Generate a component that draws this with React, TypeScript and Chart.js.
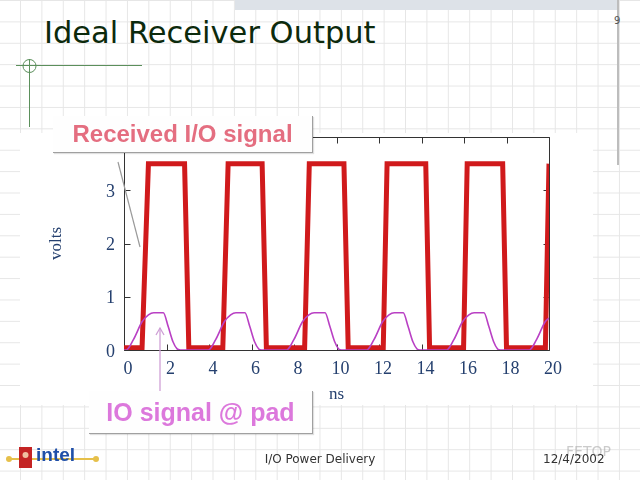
import React, { useEffect, useRef } from "react";
import { Chart, registerables } from "chart.js";
Chart.register(...registerables);

// ---- data ----
const LO = 0.04;
const HI = 3.5;
const receivedT = [0, 0.85, 1.15, 2.85, 3.05, 4.65, 4.9, 6.5, 6.7, 8.5, 8.72, 10.35, 10.55, 12.2, 12.38, 14.2, 14.38, 15.98, 16.15, 17.82, 18.0, 19.83, 20];
const receivedV = [LO, LO, HI, HI, LO, LO, HI, HI, LO, LO, HI, HI, LO, LO, HI, HI, LO, LO, HI, HI, LO, LO, HI];

const padT = [
  0, 0.1, 0.45, 0.85, 1.15, 1.4, 1.85, 2.08, 2.3, 2.5, 2.65,
  3.97, 4.32, 4.72, 5.02, 5.27, 5.69, 5.92, 6.14, 6.34, 6.48,
  7.65, 8.0, 8.4, 8.7, 8.95, 9.46, 9.69, 9.91, 10.1, 10.24,
  11.42, 11.77, 12.17, 12.47, 12.72, 13.14, 13.37, 13.59, 13.79, 13.93,
  15.18, 15.53, 15.93, 16.23, 16.48, 16.94, 17.17, 17.39, 17.58, 17.72,
  19.07, 19.42, 19.82, 20,
];
const padV = [
  0, 0, 0.2, 0.53, 0.66, 0.7, 0.7, 0.44, 0.16, 0.02, 0,
  0, 0.2, 0.53, 0.66, 0.7, 0.7, 0.44, 0.16, 0.02, 0,
  0, 0.2, 0.53, 0.66, 0.7, 0.7, 0.44, 0.16, 0.02, 0,
  0, 0.2, 0.53, 0.66, 0.7, 0.7, 0.44, 0.16, 0.02, 0,
  0, 0.2, 0.53, 0.66, 0.7, 0.7, 0.44, 0.16, 0.02, 0,
  0, 0.2, 0.53, 0.6,
];

const xTickValues = [0, 2, 4, 6, 8, 10, 12, 14, 16, 18, 20];
const yTickValues = [0, 1, 2, 3, 4];
const xTitle = "ns";
const yTitle = "volts";

const AXIS_COLOR = "#25406f";
const SERIF = "'Liberation Serif', 'DejaVu Serif', serif";

const frameTicks = {
  id: "frameTicks",
  beforeDatasetsDraw(chart: any) {
    const { ctx, chartArea: a, scales } = chart;
    const x = scales.x;
    const y = scales.y;
    const L = Math.round(a.left) + 0.5;
    const R = Math.round(a.right) + 0.5;
    const T = Math.round(a.top) + 0.5;
    const B = Math.round(a.bottom) + 0.5;
    const len = 6;
    ctx.save();
    ctx.strokeStyle = "#333333";
    ctx.lineWidth = 1;
    ctx.beginPath();
    ctx.rect(L, T, R - L, B - T);
    x.ticks.forEach((t: any) => {
      const px = Math.round(x.getPixelForValue(t.value)) + 0.5;
      ctx.moveTo(px, B);
      ctx.lineTo(px, B - len);
      ctx.moveTo(px, T);
      ctx.lineTo(px, T + len);
    });
    y.ticks.forEach((t: any) => {
      const py = Math.round(y.getPixelForValue(t.value)) + 0.5;
      ctx.moveTo(L, py);
      ctx.lineTo(L + len, py);
      ctx.moveTo(R, py);
      ctx.lineTo(R - len, py);
    });
    ctx.stroke();
    ctx.restore();
  },
};

function WaveChart() {
  const ref = useRef<HTMLCanvasElement | null>(null);
  useEffect(() => {
    if (!ref.current) return;
    const received = receivedT.map((t, i) => ({ x: t, y: receivedV[i] }));
    const pad = padT.map((t, i) => ({ x: t, y: padV[i] }));
    const chart = new Chart(ref.current, {
      type: "scatter",
      data: {
        datasets: [
          {
            label: "IO signal @ pad",
            data: pad,
            showLine: true,
            borderColor: "#b940c4",
            borderWidth: 1.6,
            pointRadius: 0,
            cubicInterpolationMode: "monotone",
            order: 1,
          } as any,
          {
            label: "Received I/O signal",
            data: received,
            showLine: true,
            borderColor: "#d01a1c",
            borderWidth: 5,
            pointRadius: 0,
            tension: 0,
            clip: 0,
            order: 2,
          } as any,
        ],
      },
      options: {
        animation: false,
        responsive: false,
        layout: { padding: { left: 26, top: 4, right: 43, bottom: 0 } },
        plugins: { legend: { display: false }, tooltip: { enabled: false } },
        scales: {
          x: {
            type: "linear",
            min: 0,
            max: 20,
            afterBuildTicks: (s: any) => {
              s.ticks = xTickValues.map((v) => ({ value: v }));
            },
            afterFit: (s: any) => {
              s.height = 55;
              s.paddingLeft = 0;
              s.paddingRight = 0;
            },
            ticks: {
              autoSkip: false,
              maxRotation: 0,
              padding: 8,
              labelOffset: 4,
              color: AXIS_COLOR,
              font: { family: SERIF, size: 18 },
            },
            grid: { display: false, drawTicks: false },
            border: { display: false },
            title: {
              display: true,
              text: xTitle,
              color: AXIS_COLOR,
              font: { family: SERIF, size: 17 },
              padding: 0,
            },
          },
          y: {
            type: "linear",
            min: 0,
            max: 4,
            afterBuildTicks: (s: any) => {
              s.ticks = yTickValues.map((v) => ({ value: v }));
            },
            afterFit: (s: any) => {
              s.width = 78;
              s.paddingTop = 0;
              s.paddingBottom = 0;
            },
            ticks: {
              padding: 9,
              labelOffset: 2,
              color: AXIS_COLOR,
              font: { family: SERIF, size: 18 },
            },
            grid: { display: false, drawTicks: false },
            border: { display: false },
            title: {
              display: true,
              text: yTitle,
              color: AXIS_COLOR,
              font: { family: SERIF, size: 17 },
              padding: 0,
            },
          },
        },
      },
      plugins: [frameTicks],
    } as any);
    return () => chart.destroy();
  }, []);
  return <canvas ref={ref} width={572} height={272} style={{ width: 572, height: 272, display: "block" }} />;
}

export default function App() {
  const abs = (o: any) => ({ position: "absolute" as const, ...o });
  return (
    <div
      style={{
        position: "fixed",
        left: 0,
        top: 0,
        width: 640,
        height: 480,
        overflow: "hidden",
        backgroundColor: "#ffffff",
        backgroundImage:
          "linear-gradient(to right, #e6e6e6 1px, transparent 1px), linear-gradient(to bottom, #e6e6e6 1px, transparent 1px)",
        backgroundSize: "21.4px 21.4px",
        backgroundPosition: "20px 0px",
        fontFamily: "'DejaVu Sans', sans-serif",
      }}
    >
      {/* top band and right rule */}
      <div style={abs({ left: 235, top: 0, width: 383, height: 10, background: "#dde2e8" })} />
      <div style={abs({ left: 617, top: 0, width: 2, height: 165, background: "#bdbdbd" })} />
      <div style={abs({ left: 614, top: 15, fontSize: 10, color: "#555" })}>9</div>

      {/* title */}
      <div style={abs({ left: 44, top: 15, fontSize: 30.5, color: "#0c2a0c", whiteSpace: "nowrap", fontFamily: "'DejaVu Sans', sans-serif" })}>
        Ideal Receiver Output
      </div>

      {/* green corner mark */}
      <svg width={640} height={480} style={abs({ left: 0, top: 0 })}>
        <line x1={16} y1={65.5} x2={142} y2={65.5} stroke="#5b8f5b" strokeWidth={1} />
        <line x1={29.5} y1={59} x2={29.5} y2={127} stroke="#5b8f5b" strokeWidth={1} />
        <circle cx={29.5} cy={66} r={6.5} fill="none" stroke="#5b8f5b" strokeWidth={1} />
      </svg>

      {/* white plot panel with chart */}
      <div style={abs({ left: 20, top: 133, width: 573, height: 272, background: "#fff" })} />
      <div style={abs({ left: 20, top: 133, width: 572, height: 272 })}>
        <WaveChart />
      </div>

      {/* callout pointers */}
      <svg width={640} height={480} style={abs({ left: 0, top: 0 })}>
        <line x1={118} y1={162} x2={140} y2={247} stroke="#9a9a9a" strokeWidth={1.2} />
        <line x1={160} y1={328} x2={160} y2={392} stroke="#cfa0d6" strokeWidth={1.3} />
        <polyline points="156,335 160,328 164,335" fill="none" stroke="#cfa0d6" strokeWidth={1.3} />
      </svg>

      {/* callout boxes */}
      <div
        style={abs({
          left: 53,
          top: 116,
          width: 259,
          height: 36,
          background: "#fefefe",
          borderRight: "1px solid #a0a0a0",
          borderBottom: "1px solid #a0a0a0",
          boxShadow: "1px 1px 1px rgba(0,0,0,0.12)",
          display: "flex",
          alignItems: "center",
          justifyContent: "center",
          fontFamily: "'Liberation Sans', Arial, sans-serif",
          fontWeight: "bold",
          fontSize: 24,
          color: "#e46e80",
          whiteSpace: "nowrap",
        })}
      >
        Received I/O signal
      </div>
      <div
        style={abs({
          left: 89,
          top: 391,
          width: 223,
          height: 42,
          background: "#fefefe",
          borderRight: "1px solid #a0a0a0",
          borderBottom: "1px solid #a0a0a0",
          boxShadow: "1px 1px 1px rgba(0,0,0,0.12)",
          display: "flex",
          alignItems: "center",
          justifyContent: "center",
          fontFamily: "'Liberation Sans', Arial, sans-serif",
          fontWeight: "bold",
          fontSize: 25,
          color: "#dc78dc",
          whiteSpace: "nowrap",
        })}
      >
        IO signal @ pad
      </div>

      {/* footer */}
      <svg width={640} height={480} style={abs({ left: 0, top: 0 })}>
        <line x1={9} y1={459} x2={97} y2={459} stroke="#e6c04a" strokeWidth={2} />
        <circle cx={9} cy={459} r={3} fill="#e6c04a" />
        <circle cx={96} cy={459} r={3} fill="#e6c04a" />
        <rect x={19} y={447} width={13} height={21} fill="#c42424" />
        <circle cx={25.5} cy={455} r={3} fill="#f0c0a0" />
      </svg>
      <div style={abs({ left: 36, top: 444, fontSize: 19, fontWeight: "bold", color: "#1f4fa8", fontFamily: "'Liberation Sans', Arial, sans-serif", background: "transparent" })}>
        intel
      </div>
      <div style={abs({ left: 220, width: 200, top: 452, fontSize: 12, color: "#333", textAlign: "center", whiteSpace: "nowrap" })}>
        I/O Power Delivery
      </div>
      <div style={abs({ left: 566, top: 443, fontSize: 14, color: "rgba(160,160,160,0.55)", whiteSpace: "nowrap" })}>FETOP</div>
      <div style={abs({ left: 543, top: 452, fontSize: 12, color: "#333", whiteSpace: "nowrap" })}>12/4/2002</div>
    </div>
  );
}
